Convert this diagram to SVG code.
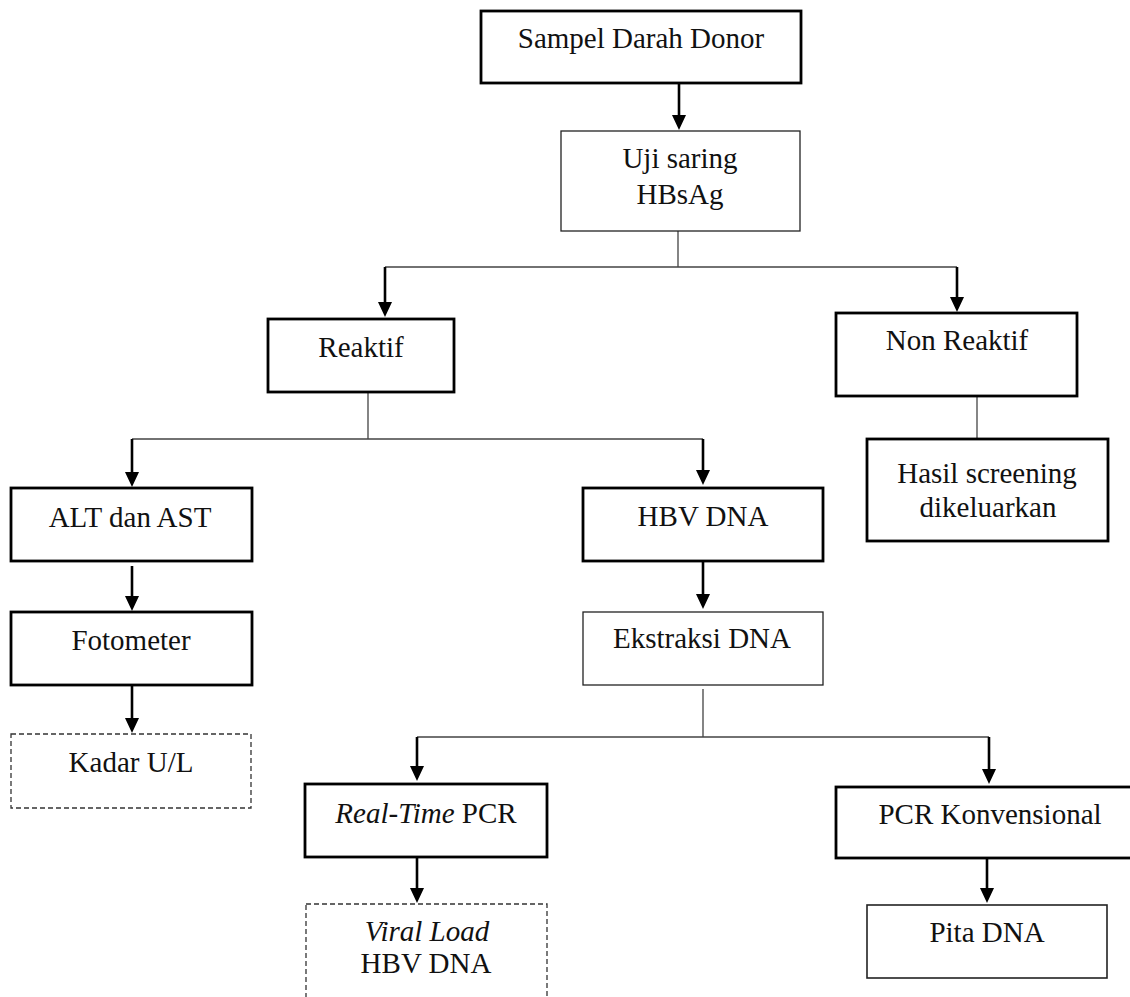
<svg xmlns="http://www.w3.org/2000/svg" width="1130" height="997" viewBox="0 0 1130 997">
<style>
  .thick{fill:#fff;stroke:#000;stroke-width:2.8}
  .thin{fill:#fff;stroke:#222;stroke-width:1.3}
  .dash{fill:#fff;stroke:#333;stroke-width:1.3;stroke-dasharray:5 3}
  .t{font-family:"Liberation Serif","Times New Roman",serif;font-size:29px;fill:#111;text-anchor:middle}
  .it{font-style:italic}
  .ln{fill:none;stroke:#444;stroke-width:1.3}
  .ar{fill:none;stroke:#000;stroke-width:2.6;marker-end:url(#ah)}
</style>
<defs>
  <marker id="ah" markerUnits="userSpaceOnUse" markerWidth="15" markerHeight="15" refX="11" refY="7" orient="auto" viewBox="0 0 15 15">
    <path d="M0,0 L15,7 L0,14 z" fill="#000"/>
  </marker>
</defs>
<rect width="1130" height="997" fill="#fff"/>
<g id="connectors">
  <path class="ar" d="M679,83 V126"/>
  <path class="ln" d="M678,231 V267 M385,267 H957"/>
  <path class="ar" d="M385,267 V313"/>
  <path class="ar" d="M957,267 V308"/>
  <path class="ln" d="M368,392 V439 M132,439 H703"/>
  <path class="ar" d="M132,439 V483"/>
  <path class="ar" d="M703,439 V481"/>
  <path class="ln" d="M977,396 V439"/>
  <path class="ar" d="M132,566 V607"/>
  <path class="ar" d="M132,685 V729"/>
  <path class="ar" d="M703,561 V605"/>
  <path class="ln" d="M703,689 V737 M417,737 H989"/>
  <path class="ar" d="M417,737 V777"/>
  <path class="ar" d="M989,737 V780"/>
  <path class="ar" d="M417,857 V899"/>
  <path class="ar" d="M987,856 V899"/>
</g>
<g id="sampel">
  <rect class="thick" x="481" y="11" width="320" height="72"/>
  <text class="t" x="641" y="48">Sampel Darah Donor</text>
</g>
<g id="uji">
  <rect class="thin" x="561" y="131" width="239" height="100"/>
  <text class="t" x="680" y="168">Uji saring</text>
  <text class="t" x="680" y="204">HBsAg</text>
</g>
<g id="reaktif">
  <rect class="thick" x="268" y="319" width="186" height="73"/>
  <text class="t" x="361" y="357">Reaktif</text>
</g>
<g id="nonreaktif">
  <rect class="thick" x="836" y="313" width="241" height="83"/>
  <text class="t" x="957" y="350">Non Reaktif</text>
</g>
<g id="hasil">
  <rect class="thick" x="867" y="439" width="241" height="102"/>
  <text class="t" x="987" y="483">Hasil screening</text>
  <text class="t" x="988" y="517">dikeluarkan</text>
</g>
<g id="alt">
  <rect class="thick" x="11" y="488" width="241" height="73"/>
  <text class="t" x="130" y="527">ALT dan AST</text>
</g>
<g id="fotometer">
  <rect class="thick" x="11" y="612" width="241" height="73"/>
  <text class="t" x="131" y="650">Fotometer</text>
</g>
<g id="kadar">
  <rect class="dash" x="11" y="734" width="240" height="74"/>
  <text class="t" x="131" y="772">Kadar U/L</text>
</g>
<g id="hbvdna">
  <rect class="thick" x="583" y="488" width="240" height="73"/>
  <text class="t" x="703" y="526">HBV DNA</text>
</g>
<g id="ekstraksi">
  <rect class="thin" x="583" y="612" width="240" height="73"/>
  <text class="t" x="702" y="648">Ekstraksi DNA</text>
</g>
<g id="realtime">
  <rect class="thick" x="305" y="784" width="242" height="73"/>
  <text class="t" x="426" y="823"><tspan class="it">Real-Time</tspan> PCR</text>
</g>
<g id="viralload">
  <rect class="dash" x="306" y="904" width="241" height="110"/>
  <text class="t it" x="427" y="941">Viral Load</text>
  <text class="t" x="426" y="973">HBV DNA</text>
</g>
<g id="pcrkonv">
  <rect class="thick" x="836" y="787" width="320" height="71"/>
  <text class="t" x="990" y="824">PCR Konvensional</text>
</g>
<g id="pita">
  <rect class="thin" x="867" y="905" width="240" height="73" style="stroke-width:1.6"/>
  <text class="t" x="987" y="942">Pita DNA</text>
</g>
</svg>
